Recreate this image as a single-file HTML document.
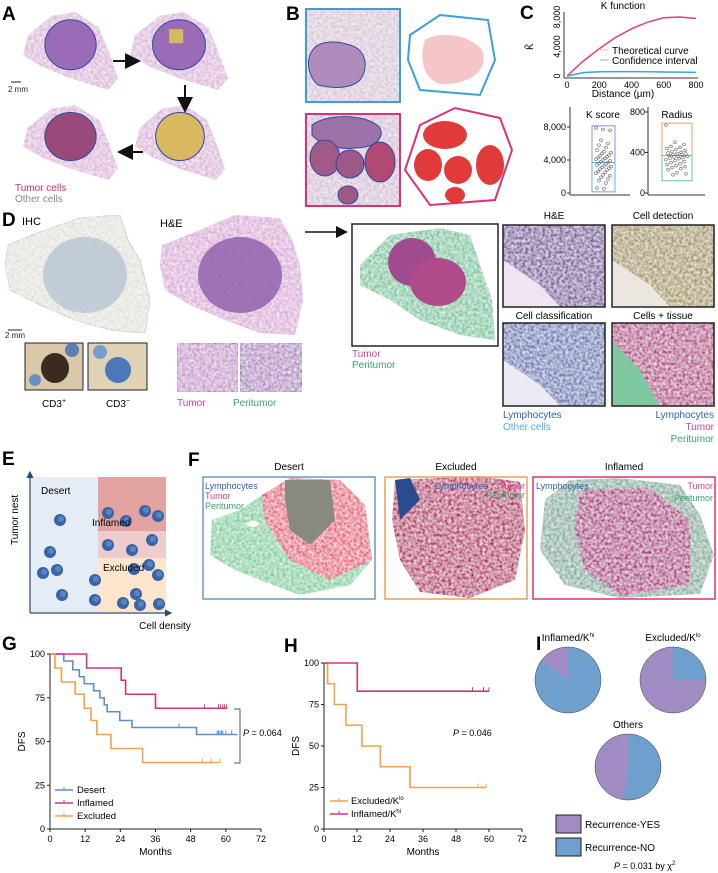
<!DOCTYPE html>
<html><head><meta charset="utf-8">
<style>
html,body{margin:0;padding:0;background:#fff;}
svg{display:block;font-family:"Liberation Sans",Arial,sans-serif;}
.pl{font-weight:bold;font-size:19px;fill:#000;}
.t{font-size:10px;fill:#111;}
.tk{font-size:9px;fill:#222;}
</style></head><body>
<svg id="fig" width="718" height="873" viewBox="0 0 718 873" xmlns="http://www.w3.org/2000/svg">
<defs>
<filter id="tex" x="0" y="0" width="1" height="1"><feTurbulence type="fractalNoise" baseFrequency="0.35" numOctaves="2" seed="3" result="n"/><feColorMatrix in="n" type="matrix" values="0 0 0 0 1  0 0 0 0 1  0 0 0 0 1  0 0 0 -1.2 0.9" result="w"/><feComposite in="w" in2="SourceGraphic" operator="in" result="wm"/><feMerge><feMergeNode in="SourceGraphic"/><feMergeNode in="wm"/></feMerge></filter>
<marker id="ah" markerWidth="8" markerHeight="8" refX="6" refY="4" orient="auto"><path d="M0,0 L8,4 L0,8 z" fill="#111"/></marker>
<marker id="ah2" markerWidth="6" markerHeight="6" refX="5" refY="3" orient="auto"><path d="M0,0 L6,3 L0,6 z" fill="#2a4a7a"/></marker>
</defs>

<!-- Panel A -->
<text class="pl" x="2" y="20">A</text>
<g id="panelA"></g>
<line x1="113" y1="61" x2="137" y2="61" stroke="#111" stroke-width="2" marker-end="url(#ah)"/>
<line x1="185" y1="85" x2="185" y2="109" stroke="#111" stroke-width="2" marker-end="url(#ah)"/>
<line x1="143" y1="152" x2="121" y2="152" stroke="#111" stroke-width="2" marker-end="url(#ah)"/>
<line x1="11" y1="82" x2="21" y2="82" stroke="#222" stroke-width="1"/>
<text x="8" y="92" font-size="8" fill="#222">2 mm</text>
<text x="15" y="191" font-size="10" fill="#c8326e">Tumor cells</text>
<text x="15" y="202" font-size="10" fill="#888">Other cells</text>

<!-- Panel B -->
<text class="pl" x="286" y="20">B</text>
<g>
<rect x="306" y="9" width="94" height="93" fill="#d9c8d8" filter="url(#tex)"/>
<path d="M310,55 C315,40 335,40 350,45 C368,50 368,70 360,80 C350,90 330,88 318,85 C310,78 306,65 310,55Z" fill="#b08cbc" stroke="#3048a0" stroke-width="1"/>
<rect x="306" y="9" width="94" height="93" fill="none" stroke="#3aa0d8" stroke-width="2"/>
<rect x="306" y="114" width="94" height="92" fill="#d5c2d6" filter="url(#tex)"/>
<path d="M312,125 C330,112 370,115 380,128 C385,140 372,148 355,148 C340,150 320,145 312,135Z" fill="#9c72a8" stroke="#3048a0"/>
<ellipse cx="325" cy="158" rx="15" ry="18" fill="#a05a88" stroke="#3048a0"/>
<ellipse cx="350" cy="164" rx="14" ry="14" fill="#9e5a86" stroke="#3048a0"/>
<ellipse cx="380" cy="162" rx="15" ry="20" fill="#b04a72" stroke="#3048a0"/>
<ellipse cx="348" cy="195" rx="10" ry="9" fill="#9e5a86" stroke="#3048a0"/>
<rect x="306" y="114" width="94" height="92" fill="none" stroke="#d8327a" stroke-width="2"/>
<path d="M410,35 L440,15 L488,20 L495,60 L480,95 L420,90 L408,60Z" fill="#fff" stroke="#3aa0d8" stroke-width="2"/>
<path d="M425,40 C440,30 470,35 482,50 C490,70 470,85 440,84 C425,80 418,60 425,40Z" fill="#f2b8b8" opacity="0.8"/>
<path d="M420,125 L455,108 L500,118 L512,150 L495,200 L430,205 L405,170Z" fill="#fff" stroke="#d8327a" stroke-width="2"/>
<ellipse cx="445" cy="135" rx="22" ry="14" fill="#e03a3a"/><ellipse cx="428" cy="165" rx="14" ry="16" fill="#e03a3a"/>
<ellipse cx="458" cy="170" rx="14" ry="14" fill="#e03a3a"/><ellipse cx="490" cy="165" rx="14" ry="20" fill="#e03a3a"/><ellipse cx="455" cy="195" rx="10" ry="8" fill="#e03a3a"/>
</g>

<!-- Panel C -->
<text class="pl" x="520" y="19">C</text>
<g id="panelC"></g>

<!-- Panel D -->
<text class="pl" x="2" y="226">D</text>
<text x="22" y="225" font-size="11">IHC</text>
<text x="160" y="227" font-size="11">H&amp;E</text>
<g>
<path d="M8,245 L40,232 L80,218 L120,215 L128,240 L140,260 L150,300 L145,333 L110,330 L75,320 L40,305 L10,290 L5,265Z" fill="#e2e2dc" stroke="#c8c8c0" filter="url(#tex)"/>
<ellipse cx="85" cy="275" rx="42" ry="38" fill="#b8c4d2" opacity="0.8"/>
<path d="M162,245 L195,232 L235,215 L280,218 L292,240 L300,265 L303,300 L295,335 L260,333 L225,320 L190,305 L165,290 L160,265Z" fill="#dcaed8" filter="url(#tex)"/>
<ellipse cx="240" cy="275" rx="42" ry="38" fill="#9262ae" opacity="0.85"/>
<line x1="8" y1="330" x2="22" y2="330" stroke="#222"/>
<text x="5" y="338" font-size="8" fill="#222">2 mm</text>
<rect x="25" y="343" width="58" height="47" fill="#d8c8a8" stroke="#222"/>
<ellipse cx="55" cy="368" rx="14" ry="15" fill="#3a2a22"/><circle cx="72" cy="350" r="7" fill="#5a7fb0"/><circle cx="35" cy="380" r="6" fill="#6a8fc0"/>
<rect x="88" y="343" width="59" height="47" fill="#e0d2b6" stroke="#222"/>
<ellipse cx="118" cy="370" rx="13" ry="13" fill="#4a78b8"/><circle cx="100" cy="352" r="7" fill="#7a9ccc"/>
<rect x="177" y="343" width="61" height="49" fill="#c89ccc" stroke="#b86aa8" stroke-width="1.5" filter="url(#tex)"/>
<rect x="240" y="343" width="62" height="49" fill="#b48cc4" stroke="#4aaa78" stroke-width="1.5" filter="url(#tex)"/>
</g>
<text x="54" y="407" font-size="10" text-anchor="middle">CD3<tspan font-size="7" dy="-4">+</tspan></text>
<text x="118" y="407" font-size="10" text-anchor="middle">CD3<tspan font-size="7" dy="-4">−</tspan></text>
<text x="177" y="406" font-size="10" fill="#d0409a">Tumor</text>
<text x="233" y="406" font-size="10" fill="#3aa070">Peritumor</text>
<line x1="305" y1="232" x2="345" y2="232" stroke="#111" stroke-width="1.5" marker-end="url(#ah)"/>
<g>
<rect x="352" y="224" width="146" height="122" fill="#fff" stroke="#222" stroke-width="1.5"/>
<path d="M360,265 L390,235 L440,228 L470,235 L480,265 L492,300 L495,340 L460,335 L420,320 L390,300 L360,285Z" fill="#7cc8a0" filter="url(#tex)"/>
<ellipse cx="412" cy="262" rx="24" ry="24" fill="#a04a90"/><ellipse cx="438" cy="282" rx="28" ry="24" fill="#b04a8a"/>
</g>
<text x="352" y="357" font-size="10" fill="#d0409a">Tumor</text>
<text x="352" y="368" font-size="10" fill="#3aa070">Peritumor</text>
<text x="554" y="219" font-size="10" text-anchor="middle">H&amp;E</text>
<text x="663" y="219" font-size="10" text-anchor="middle">Cell detection</text>
<text x="554" y="319" font-size="10" text-anchor="middle">Cell classification</text>
<text x="663" y="319" font-size="10" text-anchor="middle">Cells + tissue</text>
<g>
<rect x="503" y="225" width="102" height="82" fill="#7a5aa0" filter="url(#tex)"/>
<path d="M503,260 L540,285 L560,307 L503,307Z" fill="#efe4f0"/>
<rect x="503" y="225" width="102" height="82" fill="none" stroke="#222" stroke-width="1.5"/>
<rect x="612" y="225" width="102" height="82" fill="#a89860" filter="url(#tex)"/>
<path d="M612,260 L650,285 L670,307 L612,307Z" fill="#ece6e0"/>
<rect x="612" y="225" width="102" height="82" fill="none" stroke="#222" stroke-width="1.5"/>
<rect x="503" y="323" width="102" height="83" fill="#6a7cb8" filter="url(#tex)"/>
<path d="M503,360 L540,385 L560,406 L503,406Z" fill="#eceaf2"/>
<rect x="503" y="323" width="102" height="83" fill="none" stroke="#222" stroke-width="1.5"/>
<rect x="612" y="323" width="102" height="83" fill="#b84a8a" filter="url(#tex)"/>
<path d="M612,340 L640,370 L660,406 L612,406Z" fill="#80c8a0"/>
<rect x="612" y="323" width="102" height="83" fill="none" stroke="#222" stroke-width="1.5"/>
</g>
<text x="503" y="418" font-size="10" fill="#3060b8">Lymphocytes</text>
<text x="503" y="430" font-size="10" fill="#4ab0e0">Other cells</text>
<text x="714" y="418" font-size="10" fill="#3060b8" text-anchor="end">Lymphocytes</text>
<text x="714" y="430" font-size="10" fill="#d0409a" text-anchor="end">Tumor</text>
<text x="714" y="442" font-size="10" fill="#3aa070" text-anchor="end">Peritumor</text>

<!-- Panel E -->
<text class="pl" x="2" y="465">E</text>
<g id="panelE">
<rect x="30" y="477" width="68" height="135" fill="#e4ecf6"/>
<rect x="98" y="477" width="68" height="54" fill="#e3a3a0"/>
<rect x="98" y="531" width="68" height="27" fill="#efcccc"/>
<rect x="98" y="558" width="68" height="54" fill="#fde6cc"/>
</g>
<line x1="30" y1="613" x2="30" y2="472" stroke="#2a4a7a" stroke-width="1.2" marker-end="url(#ah2)"/>
<line x1="30" y1="613" x2="171" y2="613" stroke="#2a4a7a" stroke-width="1.2" marker-end="url(#ah2)"/>
<text x="41" y="494" font-size="10">Desert</text>
<text x="92" y="526" font-size="10">Inflamed</text>
<text x="103" y="571" font-size="10">Excluded</text>
<text x="0" y="0" font-size="10" transform="translate(18,545) rotate(-90)">Tumor nest</text>
<text x="165" y="629" font-size="10" text-anchor="middle">Cell density</text>

<!-- Panel F -->
<text class="pl" x="188" y="466">F</text>
<text x="289" y="470" font-size="10" text-anchor="middle">Desert</text>
<text x="456" y="470" font-size="10" text-anchor="middle">Excluded</text>
<text x="624" y="470" font-size="10" text-anchor="middle">Inflamed</text>
<g>
<path d="M210,555 L212,520 L240,510 L262,495 L290,478 L340,480 L365,505 L372,560 L350,585 L300,595 L260,580 L235,570Z" fill="#80d0a0" filter="url(#tex)"/>
<path d="M262,495 L290,478 L340,480 L365,505 L372,560 L330,580 L290,560 L265,520Z" fill="#e8607a" filter="url(#tex)"/>
<path d="M285,480 L330,480 L335,520 L310,545 L290,530 L285,500Z" fill="#888a82"/>
<ellipse cx="253" cy="524" rx="6" ry="3" fill="#fff"/>
<path d="M395,480 L440,478 L480,476 L520,482 L525,530 L515,580 L470,598 L420,592 L400,560 L392,520Z" fill="#b82a66" filter="url(#tex)"/>
<path d="M395,480 L410,478 L420,500 L400,520Z" fill="#2a4c8c"/>
<path d="M545,500 L570,480 L620,478 L680,485 L700,515 L714,555 L700,594 L620,598 L565,585 L540,550Z" fill="#86b0a0" filter="url(#tex)"/>
<path d="M580,490 L650,488 L690,520 L690,585 L620,596 L585,570 L575,530Z" fill="#b03a88" filter="url(#tex)"/>
</g>
<rect x="203" y="477" width="172" height="122" fill="none" stroke="#6a96d0" stroke-width="1.5"/>
<rect x="385" y="477" width="142" height="122" fill="none" stroke="#f0a050" stroke-width="1.5"/>
<rect x="533" y="477" width="182" height="122" fill="none" stroke="#d8327a" stroke-width="1.5"/>
<text x="205" y="489" font-size="9" fill="#3060b8">Lymphocytes</text>
<text x="205" y="499" font-size="9" fill="#d0409a">Tumor</text>
<text x="205" y="509" font-size="9" fill="#3aa070">Peritumor</text>
<text x="435" y="489" font-size="9" fill="#3060b8">Lymphocytes</text>
<text x="525" y="489" font-size="9" fill="#d0409a" text-anchor="end">Tumor</text>
<text x="525" y="498" font-size="9" fill="#3aa070" text-anchor="end">Peritumor</text>
<text x="536" y="489" font-size="9" fill="#3060b8">Lymphocytes</text>
<text x="713" y="489" font-size="9" fill="#d0409a" text-anchor="end">Tumor</text>
<text x="713" y="501" font-size="9" fill="#3aa070" text-anchor="end">Peritumor</text>

<!-- G, H, I -->
<text class="pl" x="2" y="650">G</text>
<text class="pl" x="284" y="652">H</text>
<text class="pl" x="536" y="650">I</text>
<g id="panelG"></g><g id="panelH"></g><g id="panelI"></g>
</svg>

<script>
// ---------- Panel C data ----------
const kDist = [0,100,200,300,400,500,600,700,800];
const kObserved = [0,2000,3700,5200,6400,7300,7900,8000,7800];
const kTheoretical = [0,450,580,600,600,580,550,520,500];
const kXTicks = [0,200,400,600,800];
const kYTicks = [0,4000,8000];
const kScores = [7900,7700,7600,6400,6000,5800,5500,5200,5000,4900,4800,4600,4500,4400,4300,4200,4100,4000,3900,3800,3700,3600,3500,3400,3300,3200,3100,3000,2900,2800,2600,2500,2400,2200,2100,1900,1700,1500,1200,600,500];
const kScoreCut = 3700;
const radii = [670,500,480,460,450,440,430,420,410,400,395,390,385,380,375,370,365,360,355,350,345,340,330,320,310,300,290,280,270,260,250,240,230,200,190,180];
const radiusCut = 370;
// ---------- Panel G data ----------
const gDesertT = [0,4.7,7.8,10,11.7,14.9,17,18.5,19.5,23.8,28,50,64];
const gDesertS = [100,96,91,87,83,79,75,71,67,62,58,54,54];
const gDesertCens = [44,57,57.5,58,58.5,59,60,62];
const gInflT = [0,12.5,24.3,25.8,36,60.5];
const gInflS = [100,92,85,77,69,69];
const gInflCens = [52.7,57.5,58.2,59,59.6,60.3];
const gExclT = [0,1.7,3.9,8.6,11.7,14,16,20.8,31.6,58];
const gExclS = [100,92,84,77,69,62,54,46,38,38];
const gExclCens = [52,55,58];
const survTicks = [0,25,50,75,100];
const monthTicks = [0,12,24,36,48,60,72];
// ---------- Panel H data ----------
const hExclT = [0,1.3,3.8,8,13.8,20.5,31.3,59];
const hExclS = [100,87.5,75,62.5,50,37.5,25,25];
const hExclCens = [56,59];
const hInflT = [0,12.1,60];
const hInflS = [100,83,83];
const hInflCens = [54,58,60];
// ---------- Panel I data ----------
const pieNames = ["Inflamed/K", "Excluded/K", "Others"];
const pieYes = [0.15, 0.75, 0.48];

const NS = "http://www.w3.org/2000/svg";
function mk(parent, tag, attrs, txt){
  const e = document.createElementNS(NS, tag);
  for (const k in attrs) e.setAttribute(k, attrs[k]);
  if (txt !== undefined) e.textContent = txt;
  parent.appendChild(e); return e;
}

// ---------- Panel A tissues ----------
(function(){
  const g = document.getElementById('panelA');
  const boxes = [[23,12,95,78,'#9a6cb8',null],[130,12,98,78,'#9a6cb8','sq'],[135,105,90,75,'#d8b860',null],[23,105,95,75,'#9a4a7a',null]];
  boxes.forEach(b=>{
    const [x,y,w,h,c,extra]=b;
    const p = `M${x+5},${y+h*0.3} L${x+w*0.3},${y+h*0.05} L${x+w*0.55},${y} L${x+w*0.8},${y+h*0.2} L${x+w*0.9},${y+h*0.5} L${x+w},${y+h*0.85} L${x+w*0.9},${y+h} L${x+w*0.5},${y+h*0.85} L${x+w*0.2},${y+h*0.7} L${x},${y+h*0.55}Z`;
    const t = mk(g,'path',{d:p,fill:'#ddb8da',filter:'url(#tex)'});
    
    
    mk(g,'ellipse',{cx:x+w*0.5,cy:y+h*0.42,rx:w*0.27,ry:h*0.32,fill:c,stroke:'#3048a0','stroke-width':1});
    if(extra==='sq') mk(g,'rect',{x:x+w*0.4,y:y+h*0.22,width:14,height:14,fill:'#d8b860'});
  });
})();

// ---------- Panel C ----------
(function(){
  const g = document.getElementById('panelC');
  const x0=567,x1=696,y0=76,y1=17;
  const sx=d=>x0+(d-800*0)/800*(x1-x0);
  const sy=v=>y0-(v/8000)*(y0-y1);
  mk(g,'text',{x:623,y:9,'font-size':10,'text-anchor':'middle'},'K function');
  mk(g,'line',{x1:x0-3,y1:y1-5,x2:x0-3,y2:y0+2,stroke:'#333'});
  mk(g,'line',{x1:x0-3,y1:y0+2,x2:x1+2,y2:y0+2,stroke:'#333'});
  kXTicks.forEach(t=>{ mk(g,'text',{x:sx(t),y:y0+12,'font-size':9,'text-anchor':'middle'},String(t)); });
  kYTicks.forEach(t=>{ mk(g,'text',{x:0,y:0,'font-size':9,'text-anchor':'middle',transform:`translate(${x0-7},${sy(t)}) rotate(-90)`},t.toLocaleString('en-US')); });
  mk(g,'text',{x:0,y:0,'font-size':10,transform:`translate(533,50) rotate(-90)`},'K̃');
  mk(g,'text',{x:623,y:97,'font-size':10,'text-anchor':'middle'},'Distance (µm)');
  let p=''; kDist.forEach((d,i)=>{p+=(i?'L':'M')+sx(d)+','+sy(kObserved[i]);});
  const c1=mk(g,'path',{d:p,fill:'none',stroke:'#e0407a','stroke-width':1.5});
  
  
  p=''; kDist.forEach((d,i)=>{p+=(i?'L':'M')+sx(d)+','+sy(kTheoretical[i]);});
  const c2=mk(g,'path',{d:p,fill:'none',stroke:'#30a8e0','stroke-width':1.5});
  
  
  mk(g,'line',{x1:600,y1:50,x2:609,y2:50,stroke:'#f0c090'});
  mk(g,'text',{x:612,y:54,'font-size':10},'Theoretical curve');
  mk(g,'line',{x1:600,y1:60,x2:609,y2:60,stroke:'#c0a0e0'});
  mk(g,'text',{x:612,y:64,'font-size':10},'Confidence interval');
  // K score box
  const by0=193, kby=v=>by0-(v/8000)*(by0-127);
  mk(g,'line',{x1:570,y1:107,x2:570,y2:195,stroke:'#333'});
  mk(g,'line',{x1:570,y1:195,x2:630,y2:195,stroke:'#333'});
  [0,4000,8000].forEach(t=>{ mk(g,'text',{x:566,y:kby(t)+3,'font-size':9,'text-anchor':'end'},t.toLocaleString('en-US')); mk(g,'line',{x1:567,y1:kby(t),x2:570,y2:kby(t),stroke:'#333'}); });
  mk(g,'text',{x:603,y:118,'font-size':10,'text-anchor':'middle'},'K score');
  const maxK=Math.max(...kScores),minK=Math.min(...kScores);
  mk(g,'rect',{x:592,y:kby(maxK)-2,width:23,height:kby(kScoreCut)-kby(maxK)+2,fill:'none',stroke:'#b080d0'});
  mk(g,'rect',{x:592,y:kby(kScoreCut),width:23,height:kby(minK)-kby(kScoreCut)+3,fill:'none',stroke:'#60b0e0'});
  kScores.forEach((v,i)=>{ const d=mk(g,'circle',{cx:596+(i*7)%16,cy:kby(v),r:1.4,fill:'none',stroke:'#666','stroke-width':0.6});   });
  // Radius box
  const ry=v=>193-(v/800)*(193-112);
  mk(g,'line',{x1:648,y1:107,x2:648,y2:195,stroke:'#333'});
  mk(g,'line',{x1:648,y1:195,x2:705,y2:195,stroke:'#333'});
  [0,400,800].forEach(t=>{ mk(g,'text',{x:645,y:ry(t)+3,'font-size':9,'text-anchor':'end'},String(t)); mk(g,'line',{x1:645,y1:ry(t),x2:648,y2:ry(t),stroke:'#333'}); });
  mk(g,'text',{x:677,y:118,'font-size':10,'text-anchor':'middle'},'Radius');
  const maxR=Math.max(...radii),minR=Math.min(...radii);
  mk(g,'rect',{x:662,y:ry(maxR)-2,width:30,height:ry(radiusCut)-ry(maxR)+2,fill:'none',stroke:'#f0a060'});
  mk(g,'rect',{x:662,y:ry(radiusCut),width:30,height:ry(minR)-ry(radiusCut)+6,fill:'none',stroke:'#60c8a0'});
  radii.forEach((v,i)=>{ const d=mk(g,'circle',{cx:666+(i*9)%22,cy:ry(v),r:1.4,fill:'none',stroke:'#666','stroke-width':0.6});   });
})();

// E dots (decorative cells)
(function(){
  const g=document.getElementById('panelE');
  const pts=[[108,513],[126,521],[145,511],[158,516],[108,545],[132,550],[149,565],[50,552],[43,573],[57,570],[62,595],[95,580],[95,600],[136,594],[158,575],[134,569],[152,540],[123,603],[140,605],[159,604],[60,520]];
  pts.forEach(p=>{ mk(g,'circle',{cx:p[0],cy:p[1],r:6,fill:'#3a64a8'}); mk(g,'circle',{cx:p[0]+1,cy:p[1]-1,r:3,fill:'#5a84c0'}); });
})();

// ---------- KM helper ----------
function km(g, ox0, ox1, oy0, oy1, T, S, cens, color, name){
  const sx=m=>ox0+m/72*(ox1-ox0), sy=v=>oy0-v/100*(oy0-oy1);
  let d='M'+sx(T[0])+','+sy(S[0]);
  for(let i=1;i<T.length;i++){ d+=' H'+sx(T[i])+' V'+sy(S[i]); }
  const p=mk(g,'path',{d:d,fill:'none',stroke:color,'stroke-width':1.6});
  
  
  cens.forEach(c=>{
    let s=S[0]; for(let i=0;i<T.length;i++){ if(T[i]<=c) s=S[i]; }
    const l=mk(g,'line',{x1:sx(c),y1:sy(s)-4,x2:sx(c),y2:sy(s),stroke:color,'stroke-width':1});
    
    
  });
}
function kmAxes(g, ox0, ox1, oy0, oy1){
  const sx=m=>ox0+m/72*(ox1-ox0), sy=v=>oy0-v/100*(oy0-oy1);
  mk(g,'line',{x1:ox0,y1:oy1,x2:ox0,y2:oy0,stroke:'#222'});
  mk(g,'line',{x1:ox0,y1:oy0,x2:ox1,y2:oy0,stroke:'#222'});
  survTicks.forEach(t=>{ mk(g,'line',{x1:ox0-3,y1:sy(t),x2:ox0,y2:sy(t),stroke:'#222'}); mk(g,'text',{x:ox0-5,y:sy(t)+3,'font-size':9,'text-anchor':'end'},String(t)); });
  monthTicks.forEach(t=>{ mk(g,'line',{x1:sx(t),y1:oy0,x2:sx(t),y2:oy0+3,stroke:'#222'}); mk(g,'text',{x:sx(t),y:oy0+13,'font-size':9,'text-anchor':'middle'},String(t)); });
  mk(g,'text',{x:(ox0+ox1)/2,y:oy0+26,'font-size':10,'text-anchor':'middle'},'Months');
  mk(g,'text',{x:0,y:0,'font-size':10,'text-anchor':'middle',transform:`translate(${ox0-25},${(oy0+oy1)/2}) rotate(-90)`},'DFS');
}
(function(){
  const g=document.getElementById('panelG');
  
  
  kmAxes(g,50,261,829,654);
  km(g,50,261,829,654,gDesertT,gDesertS,gDesertCens,'#5b8fd0','desert-curve');
  km(g,50,261,829,654,gInflT,gInflS,gInflCens,'#d8327a','inflamed-curve');
  km(g,50,261,829,654,gExclT,gExclS,gExclCens,'#f5a04a','excluded-curve');
  mk(g,'path',{d:'M234,709 H240 V763 H234',fill:'none',stroke:'#555'});
  mk(g,'text',{x:243,y:736,'font-size':9},'').innerHTML='<tspan font-style="italic">P</tspan> = 0.064';
  const leg=[['Desert','#5b8fd0',790],['Inflamed','#d8327a',803],['Excluded','#f5a04a',816]];
  leg.forEach(l=>{ mk(g,'line',{x1:55,y1:l[2],x2:73,y2:l[2],stroke:l[1],'stroke-width':1.5}); mk(g,'line',{x1:64,y1:l[2]-3,x2:64,y2:l[2],stroke:l[1]}); mk(g,'text',{x:77,y:l[2]+3,'font-size':9.5},l[0]); });
})();
(function(){
  const g=document.getElementById('panelH');
  
  
  kmAxes(g,324,522,829,663);
  km(g,324,522,829,663,hExclT,hExclS,hExclCens,'#f5a04a','excluded-klo-curve');
  km(g,324,522,829,663,hInflT,hInflS,hInflCens,'#d8327a','inflamed-khi-curve');
  mk(g,'text',{x:453,y:736,'font-size':9},'').innerHTML='<tspan font-style="italic">P</tspan> = 0.046';
  const leg=[['Excluded/K','lo','#f5a04a',801],['Inflamed/K','hi','#d8327a',814]];
  leg.forEach(l=>{ mk(g,'line',{x1:330,y1:l[3],x2:348,y2:l[3],stroke:l[2],'stroke-width':1.5}); mk(g,'line',{x1:339,y1:l[3]-3,x2:339,y2:l[3],stroke:l[2]}); mk(g,'text',{x:351,y:l[3]+3,'font-size':9.5},'').innerHTML=l[0]+'<tspan font-size="6" dy="-4">'+l[1]+'</tspan>'; });
})();
(function(){
  const g=document.getElementById('panelI');
  
  
  const centers=[[568,680],[673,680],[628,767]];
  const sups=['hi','lo',''];
  const R=33;
  pieYes.forEach((f,i)=>{
    const [cx,cy]=centers[i];
    // blue (NO) wedge clockwise from 12 o'clock, purple rest
    const aNo=(1-f)*2*Math.PI;
    const ex=cx+R*Math.sin(aNo), ey=cy-R*Math.cos(aNo);
    mk(g,'circle',{cx:cx,cy:cy,r:R,fill:'#a08cc2'});
    const w=mk(g,'path',{d:`M${cx},${cy} L${cx},${cy-R} A${R},${R} 0 ${aNo>Math.PI?1:0} 1 ${ex},${ey} Z`,fill:'#6f9fcd'});
    
    
    mk(g,'circle',{cx:cx,cy:cy,r:R,fill:'none',stroke:'#444','stroke-width':0.5});
    const t=mk(g,'text',{x:cx,y:i<2?cy-R-6:cy-R-6,'font-size':10,'text-anchor':'middle'},'');
    t.innerHTML=pieNames[i]+(sups[i]?'<tspan font-size="6" dy="-4">'+sups[i]+'</tspan>':'');
  });
  mk(g,'rect',{x:556,y:815,width:25,height:18,fill:'#a08cc2',stroke:'#222'});
  mk(g,'text',{x:585,y:828,'font-size':10},'Recurrence-YES');
  mk(g,'rect',{x:556,y:838,width:25,height:18,fill:'#6f9fcd',stroke:'#222'});
  mk(g,'text',{x:585,y:851,'font-size':10},'Recurrence-NO');
  mk(g,'text',{x:614,y:869,'font-size':9},'').innerHTML='<tspan font-style="italic">P</tspan> = 0.031 by χ<tspan font-size="6" dy="-4">2</tspan>';
})();
</script>
</body></html>
